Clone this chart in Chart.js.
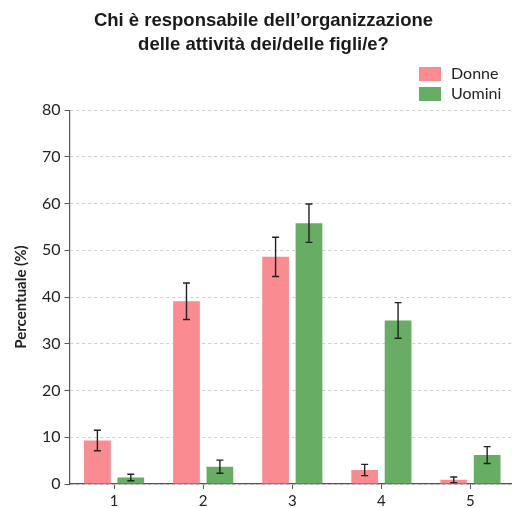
<!DOCTYPE html>
<html>
<head>
<meta charset="utf-8">
<script src="https://cdn.jsdelivr.net/npm/chart.js@4/dist/chart.umd.min.js"></script>
<style>
  html, body { margin: 0; padding: 0; background: #fff; overflow: hidden; }
  #wrap { width: 520px; height: 514px; }
</style>
</head>
<body>
<div id="wrap"><canvas id="chart"></canvas></div>
<script>
// Chi è responsabile dell'organizzazione delle attività dei/delle figli/e?
const categories = ['1', '2', '3', '4', '5'];
const seriesNames = ['Donne', 'Uomini'];
const donne = [9.3, 39.1, 48.6, 3.0, 0.9];
const donneErr = [2.2, 3.9, 4.2, 1.2, 0.6];
const uomini = [1.4, 3.7, 55.8, 35.0, 6.2];
const uominiErr = [0.7, 1.4, 4.1, 3.8, 1.8];
const yTicks = [0, 10, 20, 30, 40, 50, 60, 70, 80];

const RED = 'rgb(249,139,145)';
const GREEN = 'rgb(103,173,99)';
const FONT = 'Lato, "Open Sans", sans-serif';
const TITLE_FONT = '"Liberation Sans", Arial, sans-serif';

// error bars drawn through the y scale
const errorBars = {
  id: 'errorBars',
  afterDatasetsDraw(chart) {
    const ctx = chart.ctx;
    const y = chart.scales.y;
    ctx.save();
    ctx.strokeStyle = '#222';
    ctx.lineWidth = 1.4;
    chart.data.datasets.forEach((ds, di) => {
      const meta = chart.getDatasetMeta(di);
      meta.data.forEach((bar, i) => {
        const v = ds.data[i], e = ds.errors[i];
        const top = y.getPixelForValue(v + e);
        const bot = y.getPixelForValue(Math.max(0, v - e));
        ctx.beginPath();
        ctx.moveTo(bar.x, top); ctx.lineTo(bar.x, bot);
        ctx.moveTo(bar.x - 3.5, top); ctx.lineTo(bar.x + 3.5, top);
        ctx.moveTo(bar.x - 3.5, bot); ctx.lineTo(bar.x + 3.5, bot);
        ctx.stroke();
      });
    });
    ctx.restore();
  }
};

// stacked legend, top right
const sideLegend = {
  id: 'sideLegend',
  afterDraw(chart) {
    const ctx = chart.ctx;
    ctx.save();
    ctx.font = '16px ' + FONT;
    ctx.textBaseline = 'middle';
    chart.data.datasets.forEach((ds, i) => {
      const top = 67 + i * 20;
      ctx.fillStyle = ds.backgroundColor;
      ctx.fillRect(419, top, 22, 14);
      ctx.fillStyle = '#222';
      ctx.fillText(ds.label, 451, top + 7);
    });
    ctx.restore();
  }
};

new Chart(document.getElementById('chart'), {
  type: 'bar',
  data: {
    labels: categories,
    datasets: [
      { label: seriesNames[0], data: donne, errors: donneErr, backgroundColor: RED },
      { label: seriesNames[1], data: uomini, errors: uominiErr, backgroundColor: GREEN },
    ],
  },
  options: {
    responsive: true,
    maintainAspectRatio: false,
    animation: false,
    categoryPercentage: 0.75,
    barPercentage: 0.8,
    layout: { padding: { top: 0, right: 5, left: 12, bottom: 0 } },
    plugins: {
      legend: { display: false },
      tooltip: { enabled: false },
      title: {
        display: true,
        text: ['Chi è responsabile dell\u2019organizzazione', 'delle attività dei/delle figli/e?'],
        color: '#1a1a1a',
        font: { family: TITLE_FONT, size: 18.5, weight: 'bold', lineHeight: 1.3 },
        padding: { top: 9, bottom: 53 },
      },
    },
    scales: {
      x: {
        grid: { display: true, offset: false, drawOnChartArea: false, drawTicks: true, tickLength: 5, tickColor: '#555' },
        border: { color: '#555', width: 1.2 },
        ticks: { color: '#222', font: { family: FONT, size: 15, lineHeight: 1.0 }, padding: 5 },
      },
      y: {
        min: 0,
        max: 80,
        afterBuildTicks(axis) { axis.ticks = yTicks.map(v => ({ value: v })); },
        grid: { color: '#d0d0d0', tickColor: '#555', tickLength: 5, lineWidth: 1 },
        border: { color: '#555', width: 1.2, dash: [3, 3] },
        ticks: { color: '#222', font: { family: FONT, size: 16 }, padding: 4 },
        title: {
          display: true,
          text: 'Percentuale (%)',
          color: '#222',
          font: { family: FONT, size: 15, weight: 'bold' },
          padding: { top: 0, bottom: 8 },
        },
      },
    },
  },
  plugins: [errorBars, sideLegend],
});
</script>
</body>
</html>
